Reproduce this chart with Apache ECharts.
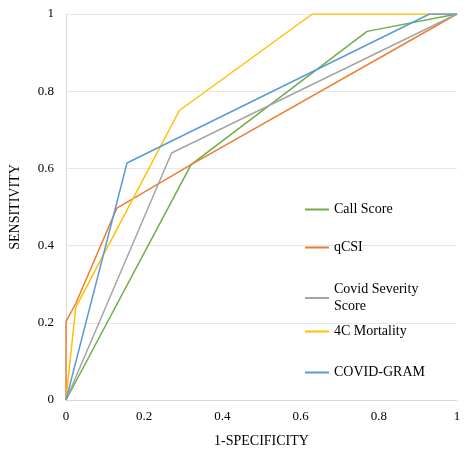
<!DOCTYPE html>
<html>
<head>
<meta charset="utf-8">
<script src="https://cdn.jsdelivr.net/npm/echarts@6/dist/echarts.min.js"></script>
<style>html,body{margin:0;background:#fff}#c{width:474px;height:457px}</style>
</head>
<body>
<div id="c"></div>
<script>
// ROC curves, points as [1-specificity, sensitivity]
const callScore = [[0, 0], [0.32, 0.61], [0.77, 0.955], [1, 1]]
const qcsi = [[0, 0], [0, 0.203], [0.025, 0.25], [0.13, 0.497], [0.32, 0.61], [1, 1]]
const covidSeverity = [[0, 0], [0.27, 0.64], [1, 1]]
const c4Mortality = [[0, 0], [0.005, 0.05], [0.025, 0.24], [0.29, 0.75], [0.63, 1], [1, 1]]
const covidGram = [[0, 0], [0.156, 0.614], [0.93, 1], [1, 1]]

const names = ['Call Score', 'qCSI', 'Covid Severity\nScore', '4C Mortality', 'COVID-GRAM']
const colors = ['#70AD47', '#ED7D31', '#A5A5A5', '#FFC000', '#5B9BD5']
const legendTops = [196, 234, 276, 318, 359]
const font = '"Liberation Serif", "Times New Roman", serif'

var chart = echarts.init(document.getElementById('c'))
var datas = [callScore, qcsi, covidSeverity, c4Mortality, covidGram]

var option = {
  animation: false,
  grid: { left: 66, right: 17, top: 14, bottom: 57 },
  legend: names.map((n, i) => ({
    data: [n],
    left: 300,
    top: legendTops[i],
    itemWidth: 24,
    itemHeight: 2,
    icon: 'rect',
    textStyle: { fontFamily: font, fontSize: 14, color: '#000', lineHeight: 17 }
  })),
  xAxis: {
    type: 'value', min: 0, max: 1, interval: 0.2,
    name: '1-SPECIFICITY', nameLocation: 'middle', nameGap: 34,
    nameTextStyle: { fontFamily: font, fontSize: 14, color: '#000' },
    axisLine: { lineStyle: { color: '#d9d9d9' } },
    axisTick: { show: false },
    axisLabel: { fontFamily: font, fontSize: 13, color: '#000', margin: 10 },
    splitLine: { show: false }
  },
  yAxis: {
    type: 'value', min: 0, max: 1, interval: 0.2,
    name: 'SENSITIVITY', nameLocation: 'middle', nameGap: 44, nameRotate: 90,
    nameTextStyle: { fontFamily: font, fontSize: 14, color: '#000' },
    axisLine: { show: true, lineStyle: { color: '#d9d9d9' } },
    axisTick: { show: false },
    axisLabel: { fontFamily: font, fontSize: 13, color: '#000', margin: 12 },
    splitLine: { lineStyle: { color: '#e8e8e8' } }
  },
  series: names.map((n, i) => ({
    name: n,
    type: 'line',
    data: datas[i],
    symbol: 'none',
    color: colors[i],
    lineStyle: { width: 1.5 }
  }))
}
chart.setOption(option)
</script>
</body>
</html>
